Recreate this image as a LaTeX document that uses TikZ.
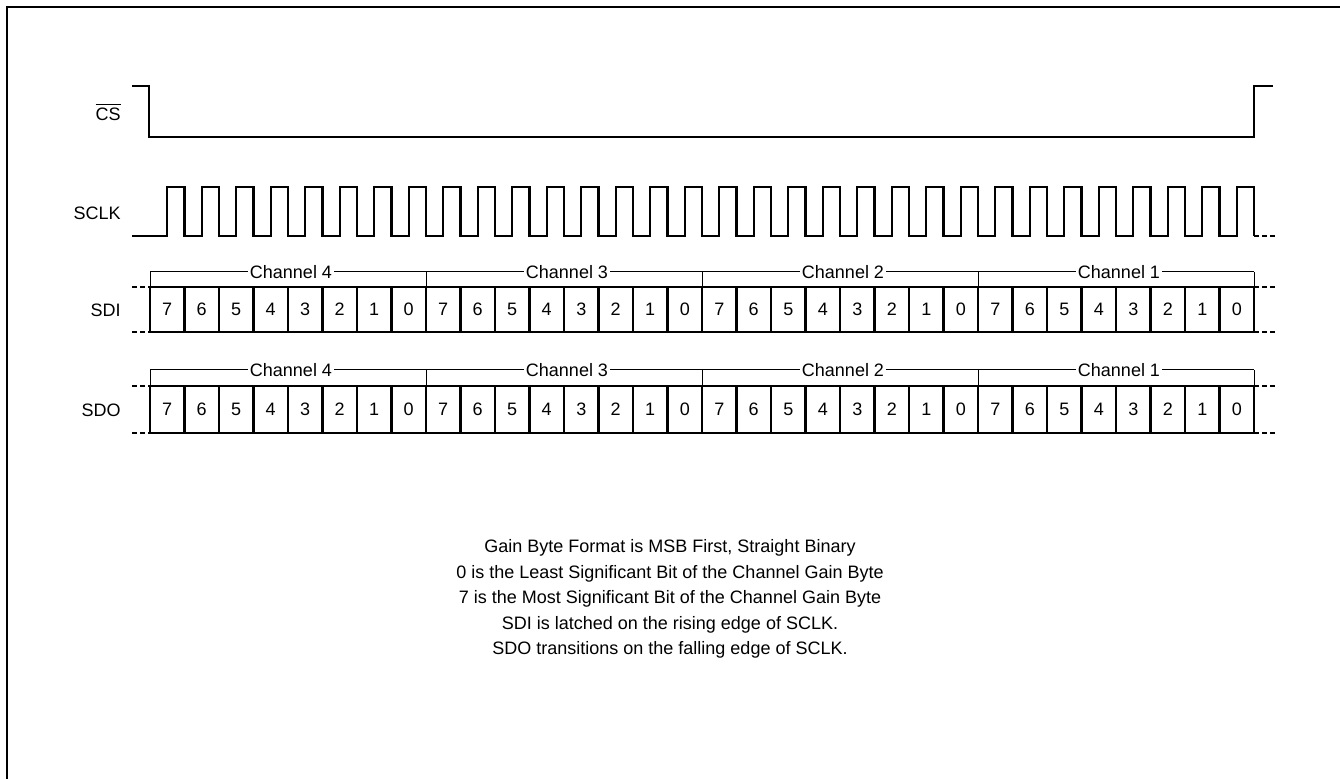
\documentclass[tikz,border=0pt]{standalone}
\usepackage{fontspec}
\setmainfont{Liberation Sans}
\begin{document}
\begin{tikzpicture}[x=0.5pt,y=-0.5pt,
  wave/.style={line width=1.15pt},
  thinline/.style={line width=0.5pt},
  stub/.style={line width=1.15pt, dash pattern=on 2.5pt off 1.5pt},
  lbl/.style={font=\fontsize{9}{11}\selectfont, anchor=east, inner sep=0pt},
  bit/.style={font=\fontsize{9}{11}\selectfont, inner sep=0pt},
  chan/.style={font=\fontsize{9}{11}\selectfont, fill=white, inner sep=1.2pt},
  note/.style={font=\fontsize{9}{11}\selectfont, inner sep=0pt}]
\useasboundingbox (0,0) rectangle (1340,779);
\draw[line width=1.1pt] (7,779) -- (7,7) -- (1340,7);
% labels
\node[lbl] (cs) at (121,112) {$\overline{\mbox{CS}}$};
\node[lbl] (sclk) at (121,213) {SCLK};
\node[lbl] (sdi) at (121,310) {SDI};
\node[lbl] (sdo) at (121,410) {SDO};
% CS
\draw[wave] (132,86) -- (149,86) -- (149,137) -- (1254,137) -- (1254,86) -- (1273,86);
% SCLK
\draw[wave] (132,236) foreach \k in {0,...,31} {
  -- ({167.25+34.5*\k},236) -- ({167.25+34.5*\k},187) -- ({184.5+34.5*\k},187) -- ({184.5+34.5*\k},236) };
\draw[stub] (1254,236) -- (1276,236);
% bit rows
\foreach \row/\top/\bot/\br in {sdi/287/332/272, sdo/386/433/370} {
  \draw[wave] (150,\top) rectangle (1254,\bot);
  \foreach \i in {1,...,31} \draw[wave] ({150+34.5*\i},\top) -- ({150+34.5*\i},\bot);
  \foreach \i in {0,...,31} {
    \pgfmathtruncatemacro\d{7-mod(\i,8)}
    \node[bit] (\row-b\i) at ({167.25+34.5*\i},{(\top+\bot)/2}) {\d};
  }
  \draw[stub] (132,\top) -- (150,\top);
  \draw[stub] (132,\bot) -- (150,\bot);
  \draw[stub] (1254,\top) -- (1276,\top);
  \draw[stub] (1254,\bot) -- (1276,\bot);
  \draw[thinline] (150,\br) -- (1254,\br);
  \foreach \j in {0,...,4} \draw[thinline] ({150+276*\j},\br) -- ({150+276*\j},\top);
  \foreach \j/\c in {0/4,1/3,2/2,3/1}
    \node[chan] (\row-ch\c) at ({291+276*\j},\br) {Channel \c};
}
% notes
\node[note] (n1) at (670,548) {Gain Byte Format is MSB First, Straight Binary};
\node[note] (n2) at (670,574) {0 is the Least Significant Bit of the Channel Gain Byte};
\node[note] (n3) at (670,599) {7 is the Most Significant Bit of the Channel Gain Byte};
\node[note] (n4) at (670,625) {SDI is latched on the rising edge of SCLK.};
\node[note] (n5) at (670,650) {SDO transitions on the falling edge of SCLK.};
\end{tikzpicture}
\end{document}
